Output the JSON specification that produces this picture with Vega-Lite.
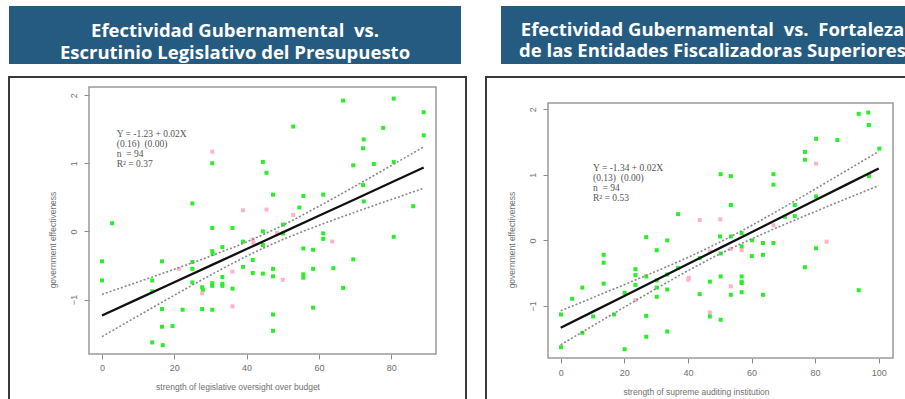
{
  "$schema": "https://vega.github.io/schema/vega-lite/v6.json",
  "padding": {"left": 8, "top": 6, "right": 0, "bottom": 0},
  "background": "white",
  "spacing": 12,
  "datasets": {
    "leg": [
      {"x":66.7,"y":1.92,"c":"g"},{"x":80.7,"y":1.95,"c":"g"},{"x":89.0,"y":1.75,"c":"g"},{"x":52.9,"y":1.54,"c":"g"},{"x":77.8,"y":1.52,"c":"g"},{"x":89.0,"y":1.41,"c":"g"},{"x":72.4,"y":1.35,"c":"g"},{"x":72.2,"y":1.22,"c":"g"},{"x":30.5,"y":1.17,"c":"p"},{"x":44.5,"y":1.02,"c":"g"},{"x":30.5,"y":1.00,"c":"g"},{"x":80.7,"y":1.02,"c":"g"},{"x":69.5,"y":0.97,"c":"g"},{"x":75.2,"y":0.99,"c":"g"},{"x":45.5,"y":0.86,"c":"g"},{"x":47.3,"y":0.54,"c":"g"},{"x":55.7,"y":0.52,"c":"g"},{"x":61.2,"y":0.54,"c":"g"},{"x":72.2,"y":0.68,"c":"g"},{"x":72.4,"y":0.44,"c":"g"},{"x":86.1,"y":0.37,"c":"g"},{"x":25.0,"y":0.41,"c":"g"},{"x":39.0,"y":0.31,"c":"p"},{"x":45.5,"y":0.32,"c":"p"},{"x":54.6,"y":0.35,"c":"g"},{"x":52.9,"y":0.24,"c":"p"},{"x":2.8,"y":0.12,"c":"g"},{"x":30.5,"y":0.05,"c":"g"},{"x":36.1,"y":0.05,"c":"g"},{"x":50.1,"y":0.10,"c":"g"},{"x":44.5,"y":0.0,"c":"g"},{"x":48.4,"y":-0.02,"c":"p"},{"x":50.1,"y":-0.03,"c":"g"},{"x":61.2,"y":-0.03,"c":"g"},{"x":61.2,"y":-0.11,"c":"g"},{"x":80.7,"y":-0.08,"c":"g"},{"x":63.7,"y":-0.15,"c":"p"},{"x":39.0,"y":-0.15,"c":"g"},{"x":41.7,"y":-0.12,"c":"p"},{"x":41.9,"y":-0.17,"c":"p"},{"x":44.5,"y":-0.20,"c":"g"},{"x":33.3,"y":-0.23,"c":"g"},{"x":30.5,"y":-0.29,"c":"g"},{"x":30.6,"y":-0.33,"c":"g"},{"x":55.7,"y":-0.25,"c":"g"},{"x":58.4,"y":-0.27,"c":"g"},{"x":0,"y":-0.44,"c":"g"},{"x":16.6,"y":-0.44,"c":"g"},{"x":25.0,"y":-0.45,"c":"g"},{"x":25.0,"y":-0.55,"c":"g"},{"x":21.3,"y":-0.55,"c":"p"},{"x":69.5,"y":-0.41,"c":"g"},{"x":39.0,"y":-0.52,"c":"g"},{"x":41.7,"y":-0.42,"c":"g"},{"x":36.1,"y":-0.59,"c":"p"},{"x":41.7,"y":-0.61,"c":"g"},{"x":44.5,"y":-0.62,"c":"g"},{"x":47.3,"y":-0.55,"c":"g"},{"x":47.3,"y":-0.66,"c":"g"},{"x":50.0,"y":-0.71,"c":"p"},{"x":55.7,"y":-0.63,"c":"g"},{"x":55.7,"y":-0.68,"c":"g"},{"x":58.4,"y":-0.55,"c":"g"},{"x":64.0,"y":-0.54,"c":"g"},{"x":0,"y":-0.72,"c":"g"},{"x":13.9,"y":-0.72,"c":"g"},{"x":25.0,"y":-0.75,"c":"g"},{"x":33.3,"y":-0.67,"c":"g"},{"x":13.9,"y":-0.88,"c":"g"},{"x":27.7,"y":-0.82,"c":"g"},{"x":27.9,"y":-0.86,"c":"g"},{"x":30.5,"y":-0.76,"c":"g"},{"x":30.5,"y":-0.80,"c":"g"},{"x":33.3,"y":-0.77,"c":"g"},{"x":33.3,"y":-0.80,"c":"g"},{"x":36.1,"y":-0.84,"c":"g"},{"x":27.7,"y":-0.91,"c":"p"},{"x":66.7,"y":-0.83,"c":"g"},{"x":16.6,"y":-1.14,"c":"g"},{"x":22.3,"y":-1.15,"c":"g"},{"x":27.7,"y":-1.14,"c":"g"},{"x":30.5,"y":-1.15,"c":"g"},{"x":36.1,"y":-1.10,"c":"p"},{"x":58.4,"y":-1.12,"c":"g"},{"x":47.3,"y":-1.22,"c":"g"},{"x":16.6,"y":-1.40,"c":"g"},{"x":19.5,"y":-1.39,"c":"g"},{"x":47.3,"y":-1.46,"c":"g"},{"x":13.9,"y":-1.63,"c":"g"},{"x":16.8,"y":-1.67,"c":"g"}
    ],
    "legfit": [
      {"x":0,"fit":-1.235,"lo":-1.545,"hi":-0.925},
      {"x":10,"fit":-0.991,"lo":-1.240,"hi":-0.742},
      {"x":20,"fit":-0.747,"lo":-0.938,"hi":-0.556},
      {"x":30,"fit":-0.503,"lo":-0.643,"hi":-0.363},
      {"x":40,"fit":-0.259,"lo":-0.364,"hi":-0.154},
      {"x":45,"fit":-0.137,"lo":-0.237,"hi":-0.037},
      {"x":50,"fit":-0.015,"lo":-0.120,"hi":0.090},
      {"x":60,"fit":0.229,"lo":0.089,"hi":0.369},
      {"x":70,"fit":0.473,"lo":0.282,"hi":0.664},
      {"x":80,"fit":0.717,"lo":0.468,"hi":0.966},
      {"x":89,"fit":0.937,"lo":0.633,"hi":1.241}
    ],
    "aud": [
      {"x":93.7,"y":1.93,"c":"g"},{"x":96.7,"y":1.95,"c":"g"},{"x":96.9,"y":1.76,"c":"g"},{"x":80.3,"y":1.55,"c":"g"},{"x":87.0,"y":1.53,"c":"g"},{"x":100.2,"y":1.40,"c":"g"},{"x":76.8,"y":1.35,"c":"g"},{"x":76.8,"y":1.23,"c":"g"},{"x":80.3,"y":1.17,"c":"p"},{"x":50.3,"y":1.01,"c":"g"},{"x":53.5,"y":0.98,"c":"g"},{"x":66.9,"y":1.01,"c":"g"},{"x":96.9,"y":0.98,"c":"g"},{"x":66.9,"y":0.85,"c":"g"},{"x":80.3,"y":0.67,"c":"g"},{"x":53.5,"y":0.54,"c":"g"},{"x":73.6,"y":0.54,"c":"g"},{"x":73.6,"y":0.37,"c":"g"},{"x":70.5,"y":0.36,"c":"g"},{"x":36.9,"y":0.40,"c":"g"},{"x":43.7,"y":0.31,"c":"p"},{"x":50.2,"y":0.32,"c":"p"},{"x":66.9,"y":0.23,"c":"p"},{"x":26.9,"y":0.05,"c":"g"},{"x":33.5,"y":0.0,"c":"g"},{"x":50.1,"y":0.06,"c":"g"},{"x":53.5,"y":0.06,"c":"g"},{"x":56.9,"y":0.11,"c":"g"},{"x":60.2,"y":0.0,"c":"g"},{"x":63.6,"y":-0.04,"c":"g"},{"x":66.9,"y":-0.04,"c":"g"},{"x":83.6,"y":-0.02,"c":"p"},{"x":80.3,"y":-0.12,"c":"g"},{"x":30.2,"y":-0.15,"c":"g"},{"x":13.5,"y":-0.22,"c":"g"},{"x":13.5,"y":-0.34,"c":"g"},{"x":46.9,"y":-0.17,"c":"p"},{"x":50.3,"y":-0.20,"c":"g"},{"x":53.5,"y":-0.13,"c":"p"},{"x":56.9,"y":-0.15,"c":"p"},{"x":56.9,"y":-0.09,"c":"g"},{"x":60.1,"y":-0.24,"c":"g"},{"x":63.6,"y":-0.22,"c":"g"},{"x":43.7,"y":-0.27,"c":"g"},{"x":76.8,"y":-0.41,"c":"g"},{"x":23.5,"y":-0.44,"c":"g"},{"x":23.5,"y":-0.53,"c":"g"},{"x":26.9,"y":-0.55,"c":"g"},{"x":36.9,"y":-0.42,"c":"g"},{"x":33.5,"y":-0.52,"c":"g"},{"x":40.3,"y":-0.57,"c":"p"},{"x":40.1,"y":-0.60,"c":"p"},{"x":50.3,"y":-0.55,"c":"g"},{"x":56.9,"y":-0.55,"c":"g"},{"x":56.9,"y":-0.63,"c":"g"},{"x":56.9,"y":-0.65,"c":"g"},{"x":46.9,"y":-0.63,"c":"g"},{"x":13.5,"y":-0.66,"c":"g"},{"x":23.5,"y":-0.68,"c":"g"},{"x":30.2,"y":-0.61,"c":"g"},{"x":30.2,"y":-0.72,"c":"g"},{"x":33.5,"y":-0.75,"c":"g"},{"x":53.5,"y":-0.70,"c":"p"},{"x":6.8,"y":-0.72,"c":"g"},{"x":56.9,"y":-0.79,"c":"g"},{"x":3.6,"y":-0.89,"c":"g"},{"x":20.1,"y":-0.80,"c":"g"},{"x":30.2,"y":-0.86,"c":"g"},{"x":43.7,"y":-0.82,"c":"g"},{"x":53.5,"y":-0.83,"c":"g"},{"x":63.6,"y":-0.83,"c":"g"},{"x":93.7,"y":-0.76,"c":"g"},{"x":23.5,"y":-0.91,"c":"p"},{"x":0.1,"y":-1.13,"c":"g"},{"x":10.2,"y":-1.16,"c":"g"},{"x":16.8,"y":-1.13,"c":"g"},{"x":26.9,"y":-1.15,"c":"g"},{"x":46.9,"y":-1.10,"c":"p"},{"x":46.9,"y":-1.16,"c":"g"},{"x":50.3,"y":-1.21,"c":"g"},{"x":6.8,"y":-1.41,"c":"g"},{"x":33.5,"y":-1.39,"c":"g"},{"x":26.9,"y":-1.47,"c":"g"},{"x":0.1,"y":-1.63,"c":"g"},{"x":20.1,"y":-1.66,"c":"g"}
    ],
    "audfit": [
      {"x":0,"fit":-1.333,"lo":-1.593,"hi":-1.073},
      {"x":10,"fit":-1.090,"lo":-1.305,"hi":-0.875},
      {"x":20,"fit":-0.847,"lo":-1.019,"hi":-0.675},
      {"x":30,"fit":-0.604,"lo":-0.737,"hi":-0.471},
      {"x":40,"fit":-0.361,"lo":-0.463,"hi":-0.259},
      {"x":50,"fit":-0.118,"lo":-0.208,"hi":-0.028},
      {"x":60,"fit":0.125,"lo":0.023,"hi":0.227},
      {"x":70,"fit":0.368,"lo":0.235,"hi":0.501},
      {"x":80,"fit":0.611,"lo":0.439,"hi":0.783},
      {"x":90,"fit":0.854,"lo":0.639,"hi":1.069},
      {"x":100,"fit":1.097,"lo":0.837,"hi":1.357}
    ]
  },
  "vconcat": [
    {
      "spacing": 40,
      "hconcat": [
        {
          "width": 452, "height": 58,
          "view": {"fill": "#255b80", "stroke": null},
          "data": {"values": [{}]},
          "mark": {"type": "text", "text": ["Efectividad Gubernamental \u00a0vs.", "Escrutinio Legislativo del Presupuesto"], "font": "Open Sans", "fontWeight": "bold", "fontSize": 18.5, "color": "white", "lineHeight": 22, "align": "center", "baseline": "middle", "dy": -4},
          "encoding": {}
        },
        {
          "width": 405, "height": 58,
          "view": {"fill": "#255b80", "stroke": null},
          "data": {"values": [{}]},
          "mark": {"type": "text", "text": ["Efectividad Gubernamental \u00a0vs. \u00a0Fortaleza", "de las Entidades Fiscalizadoras Superiores"], "font": "Open Sans", "fontWeight": "bold", "fontSize": 18.5, "color": "white", "lineHeight": 21, "align": "center", "baseline": "middle", "dx": 9, "dy": -5, "clip": true},
          "encoding": {}
        }
      ]
    },
    {
      "spacing": 18,
      "resolve": {"scale": {"x": "independent", "y": "independent"}},
      "hconcat": [
        {
          "width": 457, "height": 325,
          "view": {"stroke": "#3a3a3a", "strokeWidth": 2},
          "layer": [
            {
              "data": {"values": [{}]},
              "mark": {"type": "rect", "fill": "transparent", "stroke": "#9a9a9a", "strokeWidth": 1.5},
              "encoding": {
                "x": {"datum": -3.6, "type": "quantitative", "scale": {"domain": [-25.73, 100.7], "nice": false, "zero": false},
                  "axis": {"values": [0, 20, 40, 60, 80], "format": "d", "offset": -48, "domain": false, "grid": false, "tickSize": 5, "tickColor": "#8a8a8a", "labelFont": "Liberation Sans", "labelFontSize": 9, "labelColor": "#707070", "labelPadding": 4, "title": "strength of legislative oversight over budget", "titleFont": "Liberation Sans", "titleFontSize": 8.5, "titleFontWeight": "normal", "titleColor": "#707070", "titlePadding": 10}},
                "x2": {"datum": 92.4},
                "y": {"datum": 2.12, "type": "quantitative", "scale": {"domain": [-2.505, 2.267], "nice": false, "zero": false},
                  "axis": {"values": [-1, 0, 1, 2], "format": "d", "offset": -80, "domain": false, "grid": false, "tickSize": 5, "tickColor": "#8a8a8a", "labelAngle": -90, "labelAlign": "center", "labelBaseline": "bottom", "labelFont": "Liberation Sans", "labelFontSize": 9, "labelColor": "#707070", "labelPadding": 6, "title": "government effectiveness", "titleFont": "Liberation Sans", "titleFontSize": 8.5, "titleFontWeight": "normal", "titleColor": "#707070", "titlePadding": 12}},
                "y2": {"datum": -1.80}
              }
            },
            {
              "data": {"name": "leg"},
              "mark": {"type": "square", "size": 16, "opacity": 1},
              "encoding": {
                "x": {"field": "x", "type": "quantitative"},
                "y": {"field": "y", "type": "quantitative"},
                "color": {"field": "c", "type": "nominal", "scale": {"domain": ["g", "p"], "range": ["#2aee2a", "#ffb3c6"]}, "legend": null}
              }
            },
            {
              "data": {"name": "legfit"},
              "mark": {"type": "line", "color": "#111111", "strokeWidth": 2.3},
              "encoding": {"x": {"field": "x", "type": "quantitative"}, "y": {"field": "fit", "type": "quantitative"}}
            },
            {
              "data": {"name": "legfit"},
              "mark": {"type": "line", "color": "#888888", "strokeWidth": 1.6, "strokeDash": [2, 2], "interpolate": "monotone"},
              "encoding": {"x": {"field": "x", "type": "quantitative"}, "y": {"field": "lo", "type": "quantitative"}}
            },
            {
              "data": {"name": "legfit"},
              "mark": {"type": "line", "color": "#888888", "strokeWidth": 1.6, "strokeDash": [2, 2], "interpolate": "monotone"},
              "encoding": {"x": {"field": "x", "type": "quantitative"}, "y": {"field": "hi", "type": "quantitative"}}
            },
            {
              "data": {"values": [{}]},
              "mark": {"type": "text", "text": ["Y = -1.23 + 0.02X", "\u00a0\u00a0\u00a0\u00a0\u00a0(0.16) \u00a0(0.00)", "n \u00a0= 94", "R² = 0.37"], "font": "Liberation Serif", "fontSize": 9.5, "color": "#555555", "align": "left", "baseline": "top", "lineHeight": 10.3},
              "encoding": {"x": {"datum": 4.07, "type": "quantitative"}, "y": {"datum": 1.51, "type": "quantitative"}}
            }
          ]
        },
        {
          "width": 420, "height": 325,
          "view": {"stroke": "#3a3a3a", "strokeWidth": 2},
          "layer": [
            {
              "data": {"values": [{}]},
              "mark": {"type": "rect", "fill": "transparent", "stroke": "#9a9a9a", "strokeWidth": 1.5},
              "encoding": {
                "x": {"datum": -3.99, "type": "quantitative", "scale": {"domain": [-23.49, 108.58], "nice": false, "zero": false},
                  "axis": {"values": [0, 20, 40, 60, 80, 100], "format": "d", "offset": -44, "domain": false, "grid": false, "tickSize": 5, "tickColor": "#8a8a8a", "labelFont": "Liberation Sans", "labelFontSize": 9, "labelColor": "#707070", "labelPadding": 5, "title": "strength of supreme auditing institution", "titleFont": "Liberation Sans", "titleFontSize": 8.5, "titleFontWeight": "normal", "titleColor": "#707070", "titlePadding": 10}},
                "x2": {"datum": 104.5},
                "y": {"datum": 2.095, "type": "quantitative", "scale": {"domain": [-2.465, 2.492], "nice": false, "zero": false},
                  "axis": {"values": [-1, 0, 1, 2], "format": "d", "offset": -62, "domain": false, "grid": false, "tickSize": 5, "tickColor": "#8a8a8a", "labelAngle": -90, "labelAlign": "center", "labelBaseline": "bottom", "labelFont": "Liberation Sans", "labelFontSize": 9, "labelColor": "#707070", "labelPadding": 6, "title": "government effectiveness", "titleFont": "Liberation Sans", "titleFontSize": 8.5, "titleFontWeight": "normal", "titleColor": "#707070", "titlePadding": 12}},
                "y2": {"datum": -1.794}
              }
            },
            {
              "data": {"name": "aud"},
              "mark": {"type": "square", "size": 16, "opacity": 1},
              "encoding": {
                "x": {"field": "x", "type": "quantitative"},
                "y": {"field": "y", "type": "quantitative"},
                "color": {"field": "c", "type": "nominal", "scale": {"domain": ["g", "p"], "range": ["#2aee2a", "#ffb3c6"]}, "legend": null}
              }
            },
            {
              "data": {"name": "audfit"},
              "mark": {"type": "line", "color": "#111111", "strokeWidth": 2.3},
              "encoding": {"x": {"field": "x", "type": "quantitative"}, "y": {"field": "fit", "type": "quantitative"}}
            },
            {
              "data": {"name": "audfit"},
              "mark": {"type": "line", "color": "#888888", "strokeWidth": 1.6, "strokeDash": [2, 2], "interpolate": "monotone"},
              "encoding": {"x": {"field": "x", "type": "quantitative"}, "y": {"field": "lo", "type": "quantitative"}}
            },
            {
              "data": {"name": "audfit"},
              "mark": {"type": "line", "color": "#888888", "strokeWidth": 1.6, "strokeDash": [2, 2], "interpolate": "monotone"},
              "encoding": {"x": {"field": "x", "type": "quantitative"}, "y": {"field": "hi", "type": "quantitative"}}
            },
            {
              "data": {"values": [{}]},
              "mark": {"type": "text", "text": ["Y = -1.34 + 0.02X", "\u00a0\u00a0\u00a0\u00a0\u00a0(0.13) \u00a0(0.00)", "n \u00a0= 94", "R² = 0.53"], "font": "Liberation Serif", "fontSize": 9.5, "color": "#555555", "align": "left", "baseline": "top", "lineHeight": 10},
              "encoding": {"x": {"datum": 10.16, "type": "quantitative"}, "y": {"datum": 1.18, "type": "quantitative"}}
            }
          ]
        }
      ]
    }
  ]
}
